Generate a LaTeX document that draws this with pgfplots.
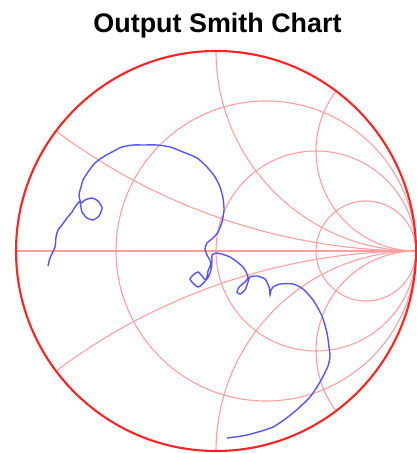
\documentclass[border=0pt]{standalone}
\usepackage{pgfplots}
\pgfplotsset{compat=1.18}
\usepackage{fontspec}
\setmainfont{Liberation Sans}
\definecolor{gridred}{RGB}{255,160,160}
\definecolor{outerred}{RGB}{255,35,35}
\definecolor{trace}{RGB}{85,85,255}
\begin{document}
\begin{tikzpicture}
\begin{axis}[scale only axis, width=417bp, height=453bp,
  xmin=-1.08, xmax=1.005, ymin=-1.01, ymax=1.255,
  hide axis, clip=false]
% grid: resistance circles r = 1/3, 1, 3
\draw[gridred, line width=1.1bp] (axis cs:0.25,0) circle[radius=150bp];
\draw[gridred, line width=1.1bp] (axis cs:0.5,0) circle[radius=100bp];
\draw[gridred, line width=1.1bp] (axis cs:0.75,0) circle[radius=50bp];
% real axis
\draw[gridred, line width=1.1bp] (axis cs:-1,0) -- (axis cs:1,0);
% reactance arcs x = +-1/3, +-1, +-2
\draw[gridred, line width=1.1bp] (axis cs:1,0) arc[start angle=270, end angle=233.13, radius=600bp];
\draw[gridred, line width=1.1bp] (axis cs:1,0) arc[start angle=90, end angle=126.87, radius=600bp];
\draw[gridred, line width=1.1bp] (axis cs:1,0) arc[start angle=270, end angle=180, radius=200bp];
\draw[gridred, line width=1.1bp] (axis cs:1,0) arc[start angle=90, end angle=180, radius=200bp];
\draw[gridred, line width=1.1bp] (axis cs:1,0) arc[start angle=270, end angle=143.13, radius=100bp];
\draw[gridred, line width=1.1bp] (axis cs:1,0) arc[start angle=90, end angle=216.87, radius=100bp];
% measured trace
\addplot[trace, line width=1.4bp, smooth, tension=0.4] coordinates {
(-0.84,-0.075) (-0.83,-0.035) (-0.805,0.02) (-0.80,0.07) (-0.79,0.105) (-0.77,0.13)
(-0.745,0.165) (-0.72,0.195) (-0.705,0.22) (-0.69,0.24) (-0.68,0.245)
(-0.67,0.195) (-0.645,0.165) (-0.615,0.155) (-0.585,0.175) (-0.57,0.215)
(-0.59,0.25) (-0.62,0.265) (-0.655,0.255) (-0.675,0.24)
(-0.685,0.28) (-0.675,0.32) (-0.665,0.355) (-0.64,0.395) (-0.605,0.44)
(-0.565,0.47) (-0.52,0.495) (-0.47,0.52) (-0.415,0.53) (-0.365,0.53)
(-0.295,0.53) (-0.23,0.52) (-0.165,0.495) (-0.095,0.465) (-0.045,0.42)
(-0.005,0.37) (0.02,0.32) (0.035,0.265) (0.04,0.205) (0.03,0.145)
(0.01,0.095) (-0.015,0.065) (-0.045,0.04) (-0.055,0.01) (-0.045,-0.02)
(-0.025,-0.06) (-0.04,-0.10) (-0.05,-0.145) (-0.09,-0.18) (-0.13,-0.14)
(-0.09,-0.105) (-0.05,-0.145) (-0.025,-0.095) (-0.02,-0.045)
(-0.02,-0.02) (0.005,-0.01) (0.07,-0.03) (0.135,-0.08) (0.16,-0.13)
(0.145,-0.155) (0.115,-0.18) (0.105,-0.205) (0.12,-0.215) (0.145,-0.195)
(0.16,-0.155) (0.17,-0.13) (0.205,-0.125) (0.245,-0.14) (0.265,-0.18)
(0.27,-0.22) (0.275,-0.195) (0.285,-0.18) (0.32,-0.165) (0.385,-0.165)
(0.435,-0.19) (0.485,-0.245) (0.53,-0.325) (0.555,-0.41) (0.565,-0.48)
(0.57,-0.525) (0.56,-0.575) (0.52,-0.655) (0.47,-0.73) (0.385,-0.81)
(0.285,-0.88) (0.155,-0.92) (0.055,-0.935)
};
% outer circle
\draw[outerred, line width=2.1bp] (axis cs:0,0) circle[radius=200bp];
% title
\node[anchor=base, font=\bfseries\fontsize{27}{30}\selectfont] at (axis cs:0.0075,1.09) {Output Smith Chart};
\end{axis}
\pgfresetboundingbox
\path (0,0) rectangle (417bp,453bp);
\end{tikzpicture}
\end{document}
